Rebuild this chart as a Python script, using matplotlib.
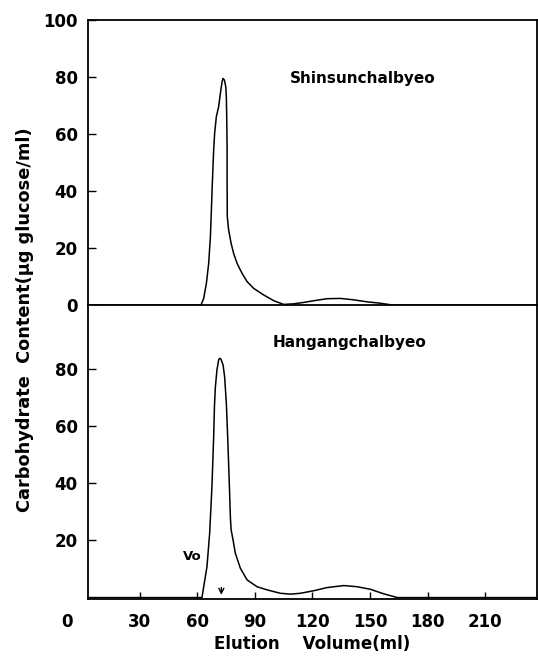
import matplotlib
matplotlib.use("Agg")
import matplotlib.pyplot as plt

# Shinsunchalbyeo (top panel): elution volume (ml) vs carbohydrate (ug glucose/ml)
shin_x = [3, 61.9, 63.3, 64.7, 65.9, 66.8, 67.3, 67.8, 68.5, 69.0, 69.9, 71.1, 72.0, 72.9, 73.4,
          74.1, 74.8, 75.1, 75.3, 75.5, 75.5, 75.6, 76.3, 77.6, 78.9, 80.7, 83.3, 85.9, 89.4, 94.6,
          99.8, 105.0, 110.2, 115.5, 120.7, 127.6, 134.6, 141.5, 148.5, 155.5, 161.5, 237]
shin_y = [0, 0, 2.3, 7.6, 14.6, 24.0, 33.3, 42.7, 54.4, 60.2, 66.1, 69.6, 74.3, 78.4, 79.5,
          78.9, 76.6, 73.1, 66.1, 54.4, 42.7, 31.0, 26.3, 21.6, 18.1, 14.6, 11.1, 8.2, 5.8, 3.5,
          1.5, 0.2, 0.4, 0.9, 1.5, 2.2, 2.3, 1.8, 1.1, 0.6, 0, 0]

# Hangangchalbyeo (bottom panel)
hang_x = [3, 62.4, 63.6, 65.0, 66.4, 67.6, 68.5, 68.9, 69.4, 70.2, 71.1, 71.6, 72.3, 73.4, 74.2,
          75.1, 75.8, 76.7, 77.2, 77.6, 78.6, 79.8, 82.4, 85.9, 91.1, 96.3, 103.3, 108.5, 113.7,
          120.7, 127.6, 136.3, 143.3, 150.2, 157.2, 164.2, 237]
hang_y = [0, 0, 5.0, 10.8, 22.5, 38.9, 56.4, 66.9, 73.9, 79.7, 83.3, 83.8, 83.5, 81.5, 77.4,
          68.1, 56.4, 38.9, 28.3, 23.7, 20.2, 15.5, 10.3, 6.2, 3.8, 2.7, 1.5, 1.2, 1.5,
          2.4, 3.5, 4.2, 3.8, 2.9, 1.3, 0, 0]

x_ticks = [30, 60, 90, 120, 150, 180, 210]
top_yticks = [0, 20, 40, 60, 80, 100]
bot_yticks = [20, 40, 60, 80]
vo_x = 72.5

plt.rcParams["font.family"] = ["DejaVu Sans"]

fig = plt.figure(figsize=(5.38, 6.64), dpi=100)
left, right = 0.1636, 0.998
ax1 = fig.add_axes([left, 0.5407, right - left, 0.9699 - 0.5407])
ax2 = fig.add_axes([left, 0.0979, right - left, 0.5407 - 0.0979])

for ax in (ax1, ax2):
    ax.set_xlim(3, 237)
    for s in ax.spines.values():
        s.set_linewidth(1.3)
        s.set_color("black")

ax1.plot(shin_x, shin_y, color="black", lw=1.1)
ax1.set_ylim(0, 100)
ax1.set_yticks(top_yticks)
ax1.set_yticklabels([str(v) for v in top_yticks], fontsize=12, fontweight="bold")
ax1.set_xticks([])
ax1.tick_params(axis="y", direction="in", length=6, width=1, pad=7.5)
ax1.spines["bottom"].set_visible(False)
ax1.text(0.45, 0.796, "Shinsunchalbyeo", transform=ax1.transAxes, fontsize=11,
         fontweight="bold", ha="left", va="center")

ax2.plot(hang_x, hang_y, color="black", lw=1.1)
ax2.set_ylim(-0.5, 102.5)
ax2.set_yticks(bot_yticks)
ax2.set_yticklabels([str(v) for v in bot_yticks], fontsize=12, fontweight="bold")
ax2.set_xticks(x_ticks)
ax2.set_xticklabels([str(v) for v in x_ticks], fontsize=12, fontweight="bold")
ax2.tick_params(axis="y", direction="in", length=6, width=1, pad=7.5)
ax2.tick_params(axis="x", direction="in", length=5, width=1, pad=10)
ax2.text(-7.8, -0.078, "0", transform=ax2.get_xaxis_transform(), fontsize=12,
         fontweight="bold", ha="center", va="center", clip_on=False)
ax2.text(0.412, 0.871, "Hangangchalbyeo", transform=ax2.transAxes, fontsize=11,
         fontweight="bold", ha="left", va="center")
ax2.text(52.5, 14.5, "Vo", fontsize=9.5, fontweight="bold", ha="left", va="center")
ax2.annotate("", xy=(vo_x, 0), xytext=(vo_x, 4.5),
             arrowprops=dict(arrowstyle="->", color="black", lw=1.0, mutation_scale=9))
ax2.set_xlabel("Elution    Volume(ml)", fontsize=12, fontweight="bold", labelpad=3)

fig.text(0.046, 0.518, "Carbohydrate  Content(\u03bcg glucose/ml)", rotation=90,
         fontsize=12.8, fontweight="bold", ha="center", va="center")

fig.savefig("out.png", dpi=100)
